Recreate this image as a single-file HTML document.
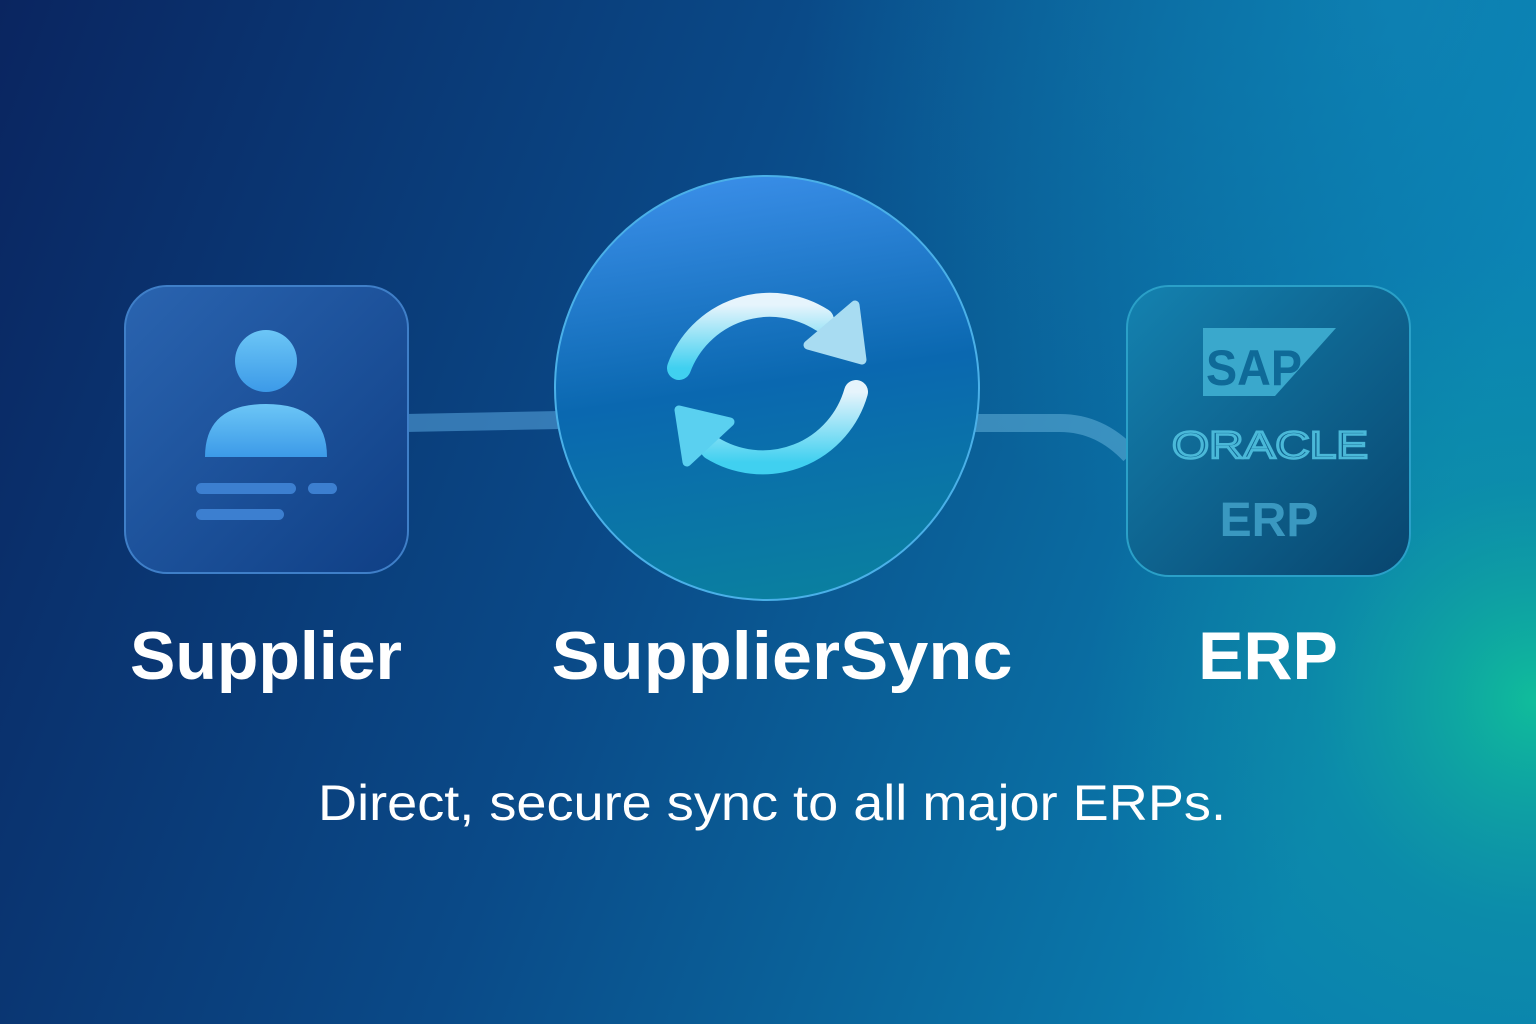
<!DOCTYPE html>
<html><head><style>
html,body{margin:0;padding:0;width:1536px;height:1024px;overflow:hidden;background:#0a2f6e}
</style></head><body>
<svg width="1536" height="1024" viewBox="0 0 1536 1024" xmlns="http://www.w3.org/2000/svg">
<defs>
<linearGradient id="bg" x1="0" y1="0" x2="1" y2="0.25">
<stop offset="0" stop-color="#0a2560"/>
<stop offset="0.5" stop-color="#0a4a88"/>
<stop offset="1" stop-color="#0a80b0"/>
</linearGradient>
<radialGradient id="glow" cx="1536" cy="700" r="450" gradientUnits="userSpaceOnUse">
<stop offset="0" stop-color="#10c09a" stop-opacity="0.95"/>
<stop offset="0.5" stop-color="#10a0a0" stop-opacity="0.35"/>
<stop offset="1" stop-color="#10a0a0" stop-opacity="0"/>
</radialGradient>
<radialGradient id="glow2" cx="1400" cy="0" r="600" gradientUnits="userSpaceOnUse">
<stop offset="0" stop-color="#1090c0" stop-opacity="0.5"/>
<stop offset="1" stop-color="#1090c0" stop-opacity="0"/>
</radialGradient>
<linearGradient id="circ" x1="0.35" y1="0" x2="0.5" y2="1">
<stop offset="0" stop-color="#3a8ee8"/>
<stop offset="0.5" stop-color="#0a68b0"/>
<stop offset="1" stop-color="#0a7fa0"/>
</linearGradient>
<linearGradient id="sup" x1="0" y1="0" x2="1" y2="1">
<stop offset="0" stop-color="#2a64b0"/>
<stop offset="1" stop-color="#0f3f85"/>
</linearGradient>
<linearGradient id="erp" x1="0" y1="0" x2="1" y2="1">
<stop offset="0" stop-color="#1482b0"/>
<stop offset="1" stop-color="#08456e"/>
</linearGradient>
<linearGradient id="arrow" x1="0" y1="0" x2="0" y2="1">
<stop offset="0" stop-color="#e6f4fc"/>
<stop offset="1" stop-color="#40d0f0"/>
</linearGradient>
<linearGradient id="person" x1="0" y1="0" x2="0" y2="1">
<stop offset="0" stop-color="#6cc6f6"/>
<stop offset="1" stop-color="#3c9ae8"/>
</linearGradient>
</defs>
<rect width="1536" height="1024" fill="url(#bg)"/>
<rect width="1536" height="1024" fill="url(#glow2)"/>
<rect width="1536" height="1024" fill="url(#glow)"/>

<path d="M405 423 L560 420" stroke="#5aa8e0" stroke-opacity="0.55" stroke-width="18" fill="none"/>
<path d="M975 423 L1060 423 Q1100 423 1130 455" stroke="#6ab8e0" stroke-opacity="0.5" stroke-width="18" fill="none"/>

<rect x="125" y="286" width="283" height="287" rx="42" fill="url(#sup)" stroke="#3f7fc8" stroke-width="2"/>
<circle cx="266" cy="361" r="31" fill="url(#person)"/>
<path d="M205 457 Q205 404 266 404 Q327 404 327 457 Z" fill="url(#person)"/>
<rect x="196" y="483" width="100" height="11" rx="5.5" fill="#3c7fd0"/>
<rect x="308" y="483" width="29" height="11" rx="5.5" fill="#3c7fd0"/>
<rect x="196" y="509" width="88" height="11" rx="5.5" fill="#3c7fd0"/>

<circle cx="767" cy="388" r="212" fill="url(#circ)" stroke="#4ab0e8" stroke-width="2"/>
<g fill="none" stroke="url(#arrow)" stroke-width="24" stroke-linecap="round">
<path d="M679 368 A 97 97 0 0 1 822 320"/>
<path d="M856 392 A 97 97 0 0 1 712 448"/>
</g>
<path d="M808 345 L855 305 L862 360 Z" fill="#a8dcf2" stroke="#a8dcf2" stroke-width="9" stroke-linejoin="round"/>
<path d="M730 422 L679 410 L687 462 Z" fill="#5ad0f0" stroke="#5ad0f0" stroke-width="9" stroke-linejoin="round"/>

<rect x="1127" y="286" width="283" height="290" rx="42" fill="url(#erp)" stroke="#2aa0c8" stroke-width="2"/>
<path d="M1203 328 L1336 328 L1275 396 L1203 396 Z" fill="#3aa8cc"/>
<text x="1206" y="385" font-family="Liberation Sans, sans-serif" font-weight="bold" font-size="50" fill="#0f6a98" textLength="96" lengthAdjust="spacingAndGlyphs">SAP</text>
<text x="1270" y="458" text-anchor="middle" font-family="Liberation Sans, sans-serif" font-size="38" fill="none" stroke="#4ab8d8" stroke-width="2.5" textLength="196" lengthAdjust="spacingAndGlyphs">ORACLE</text>
<text x="1269" y="536" text-anchor="middle" font-family="Liberation Sans, sans-serif" font-weight="bold" font-size="48" fill="#3a98c0">ERP</text>

<g font-family="Liberation Sans, sans-serif" font-weight="bold" fill="#ffffff" text-anchor="middle" font-size="68">
<text x="266" y="679">Supplier</text>
<text x="782" y="679" textLength="461" lengthAdjust="spacingAndGlyphs">SupplierSync</text>
<text x="1268" y="679">ERP</text>
</g>
<text x="772" y="820" text-anchor="middle" font-family="Liberation Sans, sans-serif" font-size="50" fill="#ffffff" textLength="908" lengthAdjust="spacingAndGlyphs">Direct, secure sync to all major ERPs.</text>
</svg>
</body></html>
